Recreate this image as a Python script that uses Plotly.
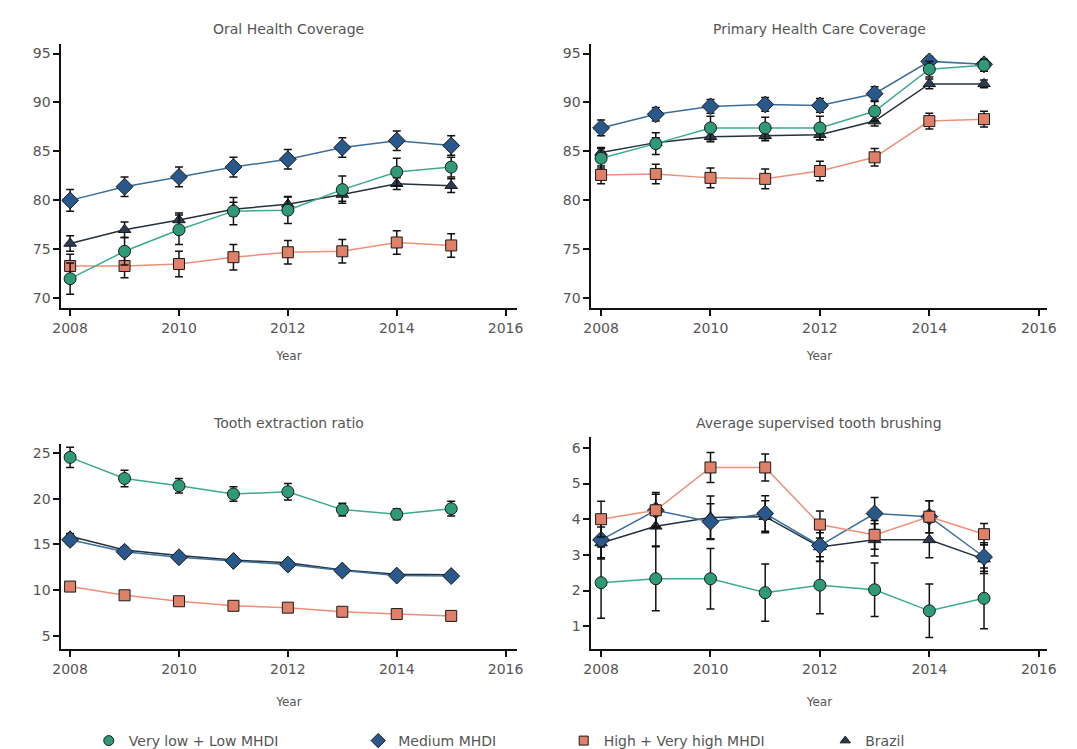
import plotly.graph_objects as go

years = [2008, 2009, 2010, 2011, 2012, 2013, 2014, 2015]
groups = ["Very low + Low MHDI", "Medium MHDI", "High + Very high MHDI", "Brazil"]
panel_titles = ["Oral Health Coverage", "Primary Health Care Coverage",
                "Tooth extraction ratio", "Average supervised tooth brushing"]

# Oral Health Coverage
oral_low = [72.0, 74.8, 77.0, 78.9, 79.0, 81.1, 82.9, 83.4]
oral_low_err = [1.6, 1.4, 1.5, 1.4, 1.35, 1.4, 1.4, 1.0]
oral_med = [80.0, 81.4, 82.4, 83.4, 84.2, 85.4, 86.1, 85.6]
oral_med_err = [1.1, 1.0, 1.0, 1.0, 1.0, 1.0, 1.0, 1.0]
oral_high = [73.3, 73.3, 73.5, 74.2, 74.7, 74.8, 75.7, 75.4]
oral_high_err = [1.2, 1.2, 1.3, 1.3, 1.2, 1.2, 1.2, 1.2]
oral_br = [75.6, 77.0, 78.0, 79.1, 79.6, 80.6, 81.7, 81.5]
oral_br_err = [0.8, 0.8, 0.7, 0.7, 0.8, 0.7, 0.6, 0.7]

# Primary Health Care Coverage
phc_low = [84.3, 85.8, 87.4, 87.4, 87.4, 89.1, 93.4, 93.8]
phc_low_err = [1.0, 1.1, 1.2, 1.1, 1.2, 1.0, 0.8, 0.6]
phc_med = [87.4, 88.8, 89.6, 89.8, 89.7, 90.9, 94.2, 93.9]
phc_med_err = [0.8, 0.7, 0.7, 0.7, 0.7, 0.7, 0.5, 0.5]
phc_high = [82.6, 82.7, 82.3, 82.2, 83.0, 84.4, 88.1, 88.3]
phc_high_err = [0.9, 1.0, 1.0, 1.0, 1.0, 0.9, 0.8, 0.8]
phc_br = [84.9, 85.9, 86.5, 86.6, 86.7, 88.1, 91.9, 91.9]
phc_br_err = [0.5, 0.5, 0.5, 0.5, 0.5, 0.5, 0.5, 0.4]

# Tooth extraction ratio
ext_low = [24.5, 22.2, 21.4, 20.5, 20.75, 18.8, 18.3, 18.9]
ext_low_err = [1.1, 0.9, 0.8, 0.8, 0.9, 0.7, 0.6, 0.8]
ext_med = [15.5, 14.2, 13.6, 13.2, 12.8, 12.15, 11.6, 11.55]
ext_med_err = [0.5, 0.4, 0.4, 0.4, 0.4, 0.4, 0.4, 0.4]
ext_high = [10.4, 9.45, 8.8, 8.3, 8.1, 7.65, 7.4, 7.2]
ext_high_err = [0.3, 0.3, 0.3, 0.3, 0.3, 0.3, 0.3, 0.3]
ext_br = [15.9, 14.4, 13.8, 13.3, 13.0, 12.2, 11.75, 11.7]
ext_br_err = [0.3, 0.3, 0.3, 0.3, 0.3, 0.3, 0.3, 0.3]

# Average supervised tooth brushing
br_low = [2.22, 2.33, 2.33, 1.94, 2.15, 2.02, 1.43, 1.78]
br_low_err = [1.0, 0.9, 0.85, 0.8, 0.8, 0.75, 0.75, 0.85]
br_med = [3.42, 4.25, 3.93, 4.16, 3.26, 4.16, 4.07, 2.94]
br_med_err = [0.5, 0.5, 0.5, 0.5, 0.45, 0.45, 0.45, 0.4]
br_high = [4.0, 4.25, 5.45, 5.45, 3.85, 3.56, 4.07, 3.58]
br_high_err = [0.5, 0.45, 0.42, 0.38, 0.38, 0.4, 0.45, 0.3]
br_br = [3.33, 3.8, 4.05, 4.07, 3.22, 3.42, 3.42, 2.88]
br_br_err = [0.45, 0.55, 0.6, 0.45, 0.4, 0.45, 0.5, 0.4]

panels = [
    [(oral_low, oral_low_err), (oral_med, oral_med_err), (oral_high, oral_high_err), (oral_br, oral_br_err)],
    [(phc_low, phc_low_err), (phc_med, phc_med_err), (phc_high, phc_high_err), (phc_br, phc_br_err)],
    [(ext_low, ext_low_err), (ext_med, ext_med_err), (ext_high, ext_high_err), (ext_br, ext_br_err)],
    [(br_low, br_low_err), (br_med, br_med_err), (br_high, br_high_err), (br_br, br_br_err)],
]

y_ticks = [[70, 75, 80, 85, 90, 95], [70, 75, 80, 85, 90, 95],
           [5, 10, 15, 20, 25], [1, 2, 3, 4, 5, 6]]
y_ranges = [[68.99, 96.01], [68.99, 96.01], [3.595, 25.97], [0.361, 6.306]]
x_ticks = [2008, 2010, 2012, 2014, 2016]

marker_fill = ["#2f9a78", "#28598a", "#e08068", "#2c3b52"]
line_col = ["#3daa8c", "#3a6f9c", "#ee8f78", "#25303f"]
symbols = ["circle", "diamond", "square", "triangle-up"]
msize = [12, 13, 11, 11]
draw_order = [3, 1, 2, 0]

W, H = 1077, 749
# pixel boxes (left, right, top, bottom) of each panel's axes
boxes = [(45, 508, 36, 303), (584, 1048, 36, 303), (45, 508, 440, 647), (584, 1048, 433, 647)]
x_ranges = [[2007.837, 2016.2], [2007.82, 2016.16], [2007.837, 2016.2], [2007.82, 2016.16]]
title_y = [21, 21, 419, 419]
year_standoff = [17, 17, 22, 22]

FONT = "DejaVu Sans"
TXT = "#555"
fig = go.Figure()
layout = dict(width=W, height=H, margin=dict(l=0, r=0, t=0, b=0),
              paper_bgcolor="white", plot_bgcolor="white",
              font=dict(family=FONT, color=TXT, size=13), annotations=[])

for p in range(4):
    ax = "" if p == 0 else str(p + 1)
    l, r, t, b = boxes[p]
    layout["xaxis" + ax] = dict(domain=[l / W, r / W], range=x_ranges[p], tickvals=x_ticks,
                                showline=True, linecolor="#111", linewidth=1.5, ticks="outside",
                                ticklen=6, tickwidth=1.5, tickcolor="#111", showgrid=False, zeroline=False,
                                anchor="y" + ax, tickfont=dict(size=14, color=TXT, family=FONT),
                                title=dict(text="Year", font=dict(size=12, color=TXT, family=FONT),
                                           standoff=year_standoff[p]))
    layout["yaxis" + ax] = dict(domain=[1 - b / H, 1 - t / H], range=y_ranges[p], tickvals=y_ticks[p],
                                showline=True, linecolor="#111", linewidth=1.5, ticks="outside",
                                ticklen=6, tickwidth=1.5, tickcolor="#111", showgrid=False, zeroline=False,
                                anchor="x" + ax, tickfont=dict(size=14, color=TXT, family=FONT))
    layout["annotations"].append(dict(text=panel_titles[p], xref="paper", yref="paper",
                                      x=(l + r) / 2 / W, y=1 - title_y[p] / H, showarrow=False,
                                      xanchor="center", yanchor="middle",
                                      font=dict(size=14, color=TXT, family=FONT)))
    for g in draw_order:
        vals, errs = panels[p][g]
        fig.add_trace(go.Scatter(
            x=years, y=vals, mode="lines+markers", xaxis="x" + ax, yaxis="y" + ax,
            line=dict(color=line_col[g], width=1.5),
            marker=dict(symbol=symbols[g], size=msize[g], color=marker_fill[g],
                        line=dict(color="#1a1a1a", width=1)),
            error_y=dict(type="data", array=errs, visible=True, color="#111", thickness=1.5, width=4),
            showlegend=False, name=groups[g]))

# legend entries (markers only), one legend each for precise placement
legend_x = [73, 347, 556, 822]
for g in range(4):
    key = "legend" if g == 0 else "legend" + str(g + 1)
    fig.add_trace(go.Scatter(x=[None], y=[None], mode="markers", name=groups[g],
                             marker=dict(symbol=symbols[g], size=msize[g] - 2, color=marker_fill[g],
                                         line=dict(color="#1a1a1a", width=1)),
                             showlegend=True, legend=key))
    layout[key] = dict(x=legend_x[g] / W, y=1 - 740 / H, xanchor="left", yanchor="middle",
                       orientation="h", itemwidth=30, bgcolor="rgba(0,0,0,0)",
                       font=dict(size=14, color=TXT, family=FONT))

fig.update_layout(**layout)
fig.write_html("out.html")
